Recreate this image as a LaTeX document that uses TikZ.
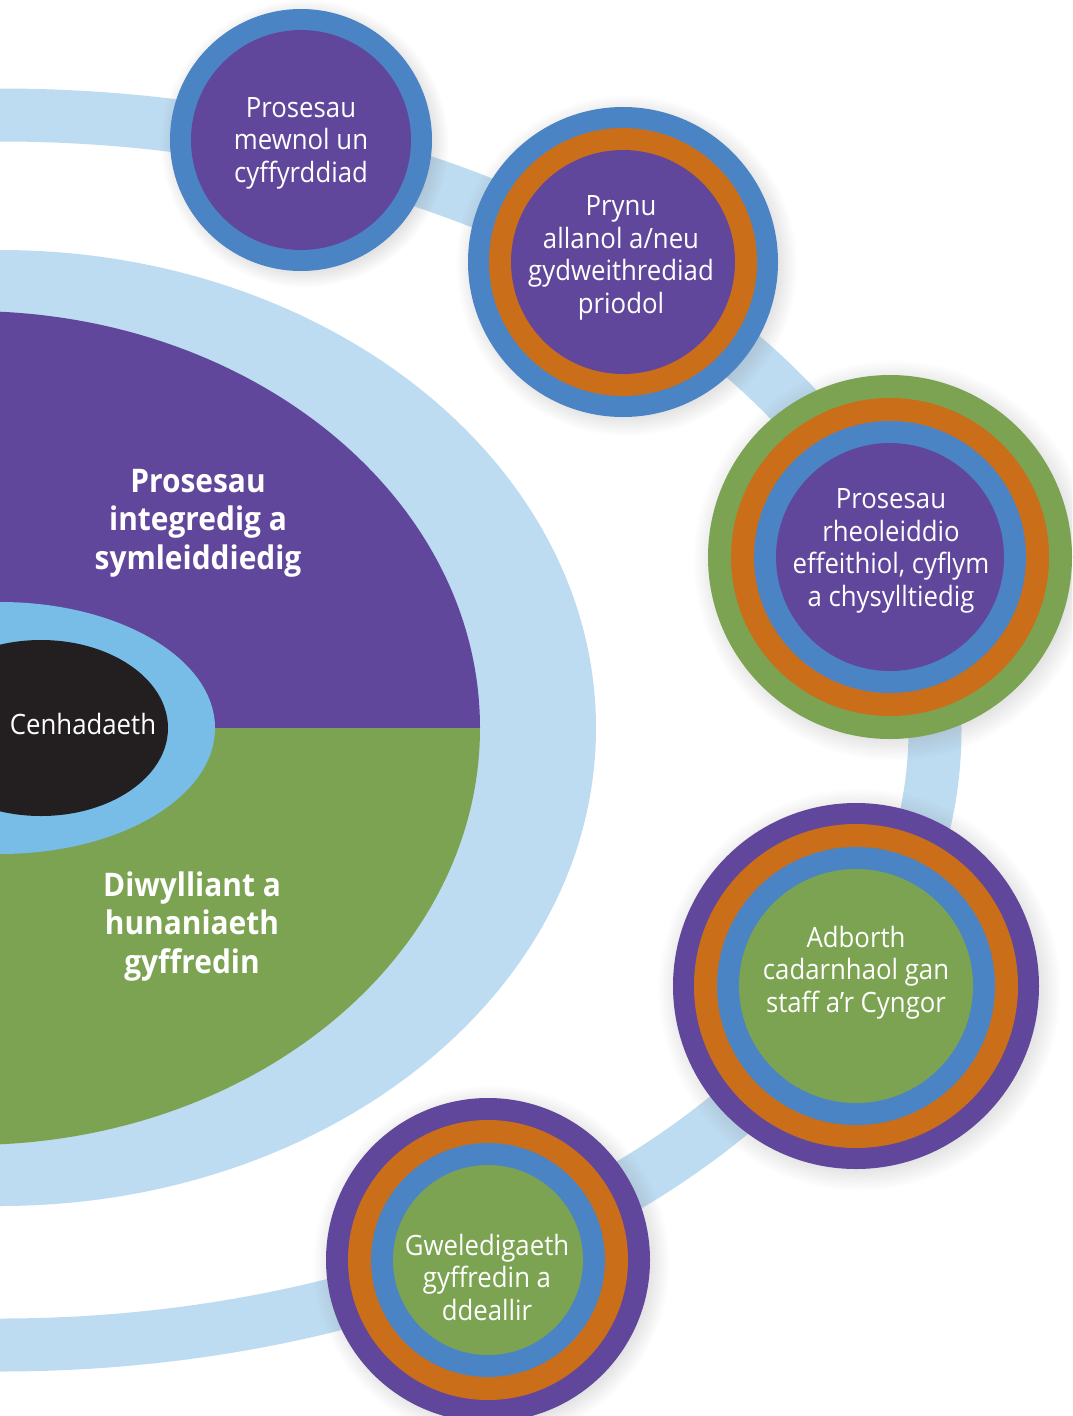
\documentclass[tikz,border=0pt]{standalone}
\usepackage{fontspec}
\setmainfont[FakeStretch=0.92]{Open Sans}
\usetikzlibrary{shadows}
\definecolor{lblue}{HTML}{BDDBF1}
\definecolor{purp}{HTML}{60479B}
\definecolor{grn}{HTML}{7BA352}
\definecolor{mblue}{HTML}{4B84C4}
\definecolor{orng}{HTML}{CB6E19}
\definecolor{skyb}{HTML}{77BDE8}
\definecolor{blk}{HTML}{231F20}
\begin{document}
\begin{tikzpicture}[x=1pt,y=1pt,
  lbl/.style={text=white, align=center, anchor=base, inner sep=0pt,
    font=\fontsize{28}{32.5}\selectfont},
  boldlbl/.style={text=white, align=center, anchor=base, inner sep=0pt,
    font=\fontsize{32.5}{38.5}\selectfont\bfseries},
  shad/.style={circular drop shadow={shadow xshift=3pt, shadow yshift=-3pt, opacity=0.28}},
  track/.style={draw=lblue, line width=53pt}]
\useasboundingbox (0,0) rectangle (1072,-1416);
\clip (0,0) rectangle (1072,-1416);
% central shape
\fill[lblue] (0,-728) ellipse [x radius=596, y radius=478];
\fill[purp] (480,-728) arc [start angle=0, end angle=180, x radius=510, y radius=417] -- cycle;
\fill[grn] (480,-728) arc [start angle=0, end angle=-180, x radius=510, y radius=417] -- cycle;
\fill[skyb] (0,-728) ellipse [x radius=215, y radius=126];
\fill[blk] (41,-728) ellipse [x radius=127, y radius=88];
% track
\path[track] (0,-730) ellipse [x radius=935, y radius=615];
% circle 1
\fill[mblue, shad] (301,-140) circle [radius=131];
\fill[purp] (301,-140) circle [radius=110];
% circle 2
\fill[mblue, shad] (623,-262) circle [radius=155];
\fill[orng] (623,-262) circle [radius=134];
\fill[purp] (623,-262) circle [radius=112];
% circle 3
\fill[grn, shad] (890,-557) circle [radius=182];
\fill[orng] (890,-557) circle [radius=159];
\fill[mblue] (890,-557) circle [radius=136];
\fill[purp] (890,-557) circle [radius=114];
% circle 4
\fill[purp, shad] (856,-986) circle [radius=183];
\fill[orng] (856,-986) circle [radius=162];
\fill[mblue] (856,-986) circle [radius=139];
\fill[grn] (856,-986) circle [radius=117];
% circle 5
\fill[purp, shad] (488,-1260) circle [radius=162];
\fill[orng] (488,-1260) circle [radius=140];
\fill[mblue] (488,-1260) circle [radius=117];
\fill[grn] (488,-1260) circle [radius=95];
% texts (anchor = baseline of the last line)
\node[lbl] (t1) at (301,-182) {Prosesau\\mewnol un\\cyffyrddiad};
\node[lbl] (t2) at (621,-313) {Prynu\\allanol a/neu\\gydweithrediad\\priodol};
\node[lbl] (t3) at (891,-606) {Prosesau\\rheoleiddio\\effeithiol, cyflym\\a chysylltiedig};
\node[lbl] (t4) at (856,-1012) {Adborth\\cadarnhaol gan\\staff a’r Cyngor};
\node[lbl] (t5) at (487,-1320) {Gweledigaeth\\gyffredin a\\ddeallir};
\node[lbl] (tc) at (83,-734) {Cenhadaeth};
\node[boldlbl] (tp) at (198,-569) {Prosesau\\integredig a\\symleiddiedig};
\node[boldlbl] (tg) at (192,-973) {Diwylliant a\\hunaniaeth\\gyffredin};
\end{tikzpicture}
\end{document}
